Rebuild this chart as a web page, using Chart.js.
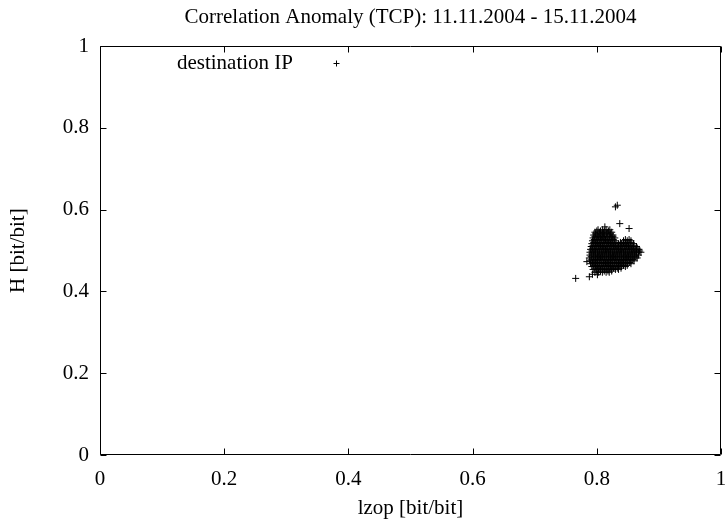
<!DOCTYPE html>
<html>
<head>
<meta charset="utf-8">
<script src="https://cdn.jsdelivr.net/npm/chart.js@4/dist/chart.umd.min.js"></script>
<style>
  html, body { margin: 0; padding: 0; background: #fff; }
  #wrap { width: 726px; height: 523px; }
</style>
</head>
<body>
<div id="wrap"><canvas id="corr" width="726" height="523"></canvas></div>
<script>
const titleText = 'Correlation Anomaly (TCP): 11.11.2004 - 15.11.2004';
const xTitle = 'lzop [bit/bit]';
const yTitle = 'H [bit/bit]';
const seriesLabel = 'destination IP';

const xTickValues = [0, 0.2, 0.4, 0.6, 0.8, 1];
const yTickValues = [0, 0.2, 0.4, 0.6, 0.8, 1];

const coreRowsH = [0.551, 0.545, 0.538, 0.531, 0.524, 0.517, 0.510, 0.503, 0.496, 0.489, 0.482, 0.475, 0.468, 0.461, 0.454, 0.447];
const coreRowsLzop = [
  [0.802, 0.809, 0.815, 0.821],
  [0.797, 0.804, 0.810, 0.817, 0.824],
  [0.795, 0.801, 0.808, 0.813, 0.820, 0.826],
  [0.794, 0.800, 0.806, 0.812, 0.818, 0.824, 0.829],
  [0.793, 0.799, 0.805, 0.811, 0.817, 0.823, 0.829, 0.843, 0.849, 0.855],
  [0.792, 0.798, 0.804, 0.810, 0.816, 0.822, 0.828, 0.835, 0.840, 0.846, 0.852, 0.859],
  [0.791, 0.797, 0.803, 0.809, 0.815, 0.821, 0.827, 0.833, 0.839, 0.845, 0.851, 0.857, 0.864],
  [0.790, 0.796, 0.802, 0.808, 0.814, 0.820, 0.826, 0.832, 0.838, 0.844, 0.850, 0.856, 0.862, 0.868],
  [0.789, 0.795, 0.801, 0.807, 0.813, 0.819, 0.825, 0.831, 0.837, 0.843, 0.849, 0.855, 0.861, 0.867, 0.871],
  [0.789, 0.795, 0.801, 0.807, 0.813, 0.819, 0.825, 0.831, 0.837, 0.843, 0.849, 0.855, 0.861, 0.867],
  [0.788, 0.794, 0.800, 0.806, 0.812, 0.818, 0.824, 0.830, 0.836, 0.842, 0.848, 0.854, 0.860, 0.865],
  [0.789, 0.795, 0.801, 0.807, 0.813, 0.819, 0.825, 0.831, 0.837, 0.843, 0.849, 0.855, 0.860],
  [0.790, 0.796, 0.802, 0.808, 0.814, 0.820, 0.826, 0.832, 0.838, 0.844, 0.850, 0.855],
  [0.792, 0.798, 0.804, 0.810, 0.816, 0.822, 0.828, 0.834, 0.840, 0.846],
  [0.794, 0.800, 0.806, 0.812, 0.818, 0.824, 0.830, 0.835],
  [0.797, 0.803, 0.809, 0.815, 0.820]
];

// points lying between the rows above (the cloud is solid black in the middle)
const midRowsH = [0.548, 0.541, 0.534, 0.527, 0.520, 0.513, 0.506, 0.499, 0.492, 0.485, 0.478, 0.471, 0.464, 0.457, 0.450];
const midRowsLzop = [
  [0.800, 0.806, 0.812, 0.819],
  [0.798, 0.805, 0.811, 0.816, 0.822],
  [0.797, 0.803, 0.809, 0.815, 0.821, 0.826],
  [0.796, 0.802, 0.808, 0.814, 0.820, 0.826, 0.846, 0.852],
  [0.795, 0.801, 0.807, 0.813, 0.819, 0.825, 0.831, 0.838, 0.843, 0.849, 0.855],
  [0.794, 0.800, 0.806, 0.812, 0.818, 0.824, 0.830, 0.836, 0.842, 0.848, 0.854, 0.860],
  [0.793, 0.799, 0.805, 0.811, 0.817, 0.823, 0.829, 0.835, 0.841, 0.847, 0.853, 0.859, 0.865],
  [0.792, 0.798, 0.804, 0.810, 0.816, 0.822, 0.828, 0.834, 0.840, 0.846, 0.852, 0.858, 0.864, 0.869],
  [0.792, 0.798, 0.804, 0.810, 0.816, 0.822, 0.828, 0.834, 0.840, 0.846, 0.852, 0.858, 0.864],
  [0.791, 0.797, 0.803, 0.809, 0.815, 0.821, 0.827, 0.833, 0.839, 0.845, 0.851, 0.857, 0.863],
  [0.792, 0.798, 0.804, 0.810, 0.816, 0.822, 0.828, 0.834, 0.840, 0.846, 0.852, 0.858],
  [0.793, 0.799, 0.805, 0.811, 0.817, 0.823, 0.829, 0.835, 0.841, 0.847, 0.853],
  [0.795, 0.801, 0.807, 0.813, 0.819, 0.825, 0.831, 0.837, 0.843, 0.849],
  [0.797, 0.803, 0.809, 0.815, 0.821, 0.827, 0.833, 0.839],
  [0.800, 0.806, 0.812, 0.818, 0.824]
];

// loose points around the cloud
const strayLzop = [0.766, 0.788, 0.784, 0.830, 0.833, 0.837, 0.852, 0.813, 0.793, 0.801];
const strayH = [0.432, 0.436, 0.473, 0.607, 0.611, 0.566, 0.554, 0.558, 0.442, 0.441];

const points = [];
coreRowsH.forEach((h, i) => {
  coreRowsLzop[i].forEach((lz) => points.push({ x: lz, y: h }));
});
midRowsH.forEach((h, i) => {
  midRowsLzop[i].forEach((lz) => points.push({ x: lz, y: h }));
});
strayLzop.forEach((lz, i) => points.push({ x: lz, y: strayH[i] }));

const FONT = 'Liberation Serif';
Chart.defaults.font.family = FONT;
Chart.defaults.font.size = 21;
Chart.defaults.color = '#000';

// gnuplot style box with inward ticks on all four sides, plus the key
const frame = {
  id: 'frame',
  afterDraw(chart) {
    const { ctx, chartArea: a, scales } = chart;
    const L = Math.round(a.left) + 0.5;
    const R = Math.round(a.right) - 0.5;
    const T = Math.round(a.top) + 0.5;
    const B = Math.round(a.bottom) - 0.5;
    const tick = 6;
    ctx.save();
    ctx.strokeStyle = '#000';
    ctx.lineWidth = 1;
    ctx.beginPath();
    ctx.rect(L, T, R - L, B - T);
    xTickValues.forEach((v) => {
      const px = Math.round(scales.x.getPixelForValue(v)) + 0.5;
      ctx.moveTo(px, B); ctx.lineTo(px, B - tick);
      ctx.moveTo(px, T); ctx.lineTo(px, T + tick);
    });
    yTickValues.forEach((v) => {
      const py = Math.round(scales.y.getPixelForValue(v)) + 0.5;
      ctx.moveTo(L, py); ctx.lineTo(L + tick, py);
      ctx.moveTo(R, py); ctx.lineTo(R - tick, py);
    });
    ctx.stroke();

    // key
    const ky = a.top + 17;
    ctx.font = `21px "${FONT}"`;
    ctx.fillStyle = '#000';
    ctx.textAlign = 'right';
    ctx.textBaseline = 'middle';
    ctx.fillText(seriesLabel, a.left + 193, ky);
    const kx = Math.round(a.left + 236) + 0.5;
    const kyy = Math.round(ky) + 0.5;
    ctx.beginPath();
    ctx.moveTo(kx - 3, kyy); ctx.lineTo(kx + 3, kyy);
    ctx.moveTo(kx, kyy - 3); ctx.lineTo(kx, kyy + 3);
    ctx.stroke();
    ctx.restore();
  }
};

new Chart(document.getElementById('corr'), {
  type: 'scatter',
  data: {
    datasets: [{
      label: seriesLabel,
      data: points,
      pointStyle: 'cross',
      pointRadius: 3.5,
      pointHoverRadius: 3.5,
      borderColor: '#000',
      backgroundColor: '#000',
      borderWidth: 1
    }]
  },
  options: {
    responsive: false,
    animation: false,
    devicePixelRatio: 1,
    layout: { padding: { left: 0, right: 5, top: 0, bottom: 0 } },
    plugins: {
      legend: { display: false },
      tooltip: { enabled: false },
      title: {
        display: true,
        fullSize: false,
        text: titleText,
        color: '#000',
        font: { family: FONT, size: 21, weight: 'normal', lineHeight: 1.2 },
        padding: { top: 5, bottom: 16 }
      }
    },
    scales: {
      x: {
        type: 'linear',
        min: 0,
        max: 1,
        afterFit: (s) => { s.height = 68; s.paddingLeft = 0; s.paddingRight = 0; },
        afterBuildTicks: (s) => { s.ticks = xTickValues.map((v) => ({ value: v })); },
        grid: { display: false, drawTicks: false },
        border: { display: false },
        ticks: {
          padding: 12,
          maxRotation: 0,
          autoSkip: false,
          callback: (v) => String(+v.toFixed(1))
        },
        title: {
          display: true,
          text: xTitle,
          font: { family: FONT, size: 21 },
          padding: { top: 0, bottom: 2 }
        }
      },
      y: {
        type: 'linear',
        min: 0,
        max: 1,
        afterFit: (s) => { s.width = 100; },
        afterBuildTicks: (s) => { s.ticks = yTickValues.map((v) => ({ value: v })); },
        grid: { display: false, drawTicks: false },
        border: { display: false },
        ticks: {
          padding: 11,
          autoSkip: false,
          callback: (v) => String(+v.toFixed(1))
        },
        title: {
          display: true,
          text: yTitle,
          font: { family: FONT, size: 21 },
          padding: { top: 6, bottom: 0 }
        }
      }
    }
  },
  plugins: [frame]
});
</script>
</body>
</html>
